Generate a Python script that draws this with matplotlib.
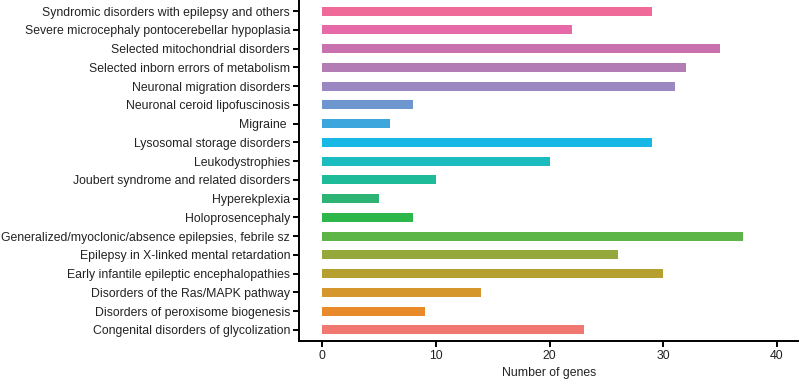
import matplotlib
matplotlib.use("Agg")
import matplotlib.pyplot as plt

categories = [
    "Congenital disorders of glycolization",
    "Disorders of peroxisome biogenesis",
    "Disorders of the Ras/MAPK pathway",
    "Early infantile epileptic encephalopathies",
    "Epilepsy in X-linked mental retardation",
    "Generalized/myoclonic/absence epilepsies, febrile sz",
    "Holoprosencephaly",
    "Hyperekplexia",
    "Joubert syndrome and related disorders",
    "Leukodystrophies",
    "Lysosomal storage disorders",
    "Migraine ",
    "Neuronal ceroid lipofuscinosis",
    "Neuronal migration disorders",
    "Selected inborn errors of metabolism",
    "Selected mitochondrial disorders",
    "Severe microcephaly pontocerebellar hypoplasia",
    "Syndromic disorders with epilepsy and others",
]
values = [23, 9, 14, 30, 26, 37, 8, 5, 10, 20, 29, 6, 8, 31, 32, 35, 22, 29]
colors = ["#F07870", "#E98A2A", "#D6962E", "#B5A02F", "#94A83C", "#5DB548",
          "#2DB64A", "#2DB374", "#1DBB98", "#1BBCC0", "#18B8E6", "#3DA6DD",
          "#6E96CE", "#9B88C2", "#B37CB5", "#C970AE", "#E66AA8", "#EF6A98"]
xticks = [0, 10, 20, 30, 40]

plt.rcParams['font.family'] = ['Liberation Sans', 'DejaVu Sans']
fig = plt.figure(figsize=(8, 3.81), dpi=100)
ax = fig.add_axes([0.374, 0.105, 0.624, 0.895])
ypos = list(range(len(categories)))
ax.barh(ypos, values, height=0.48, color=colors)
ax.set_yticks(ypos)
ax.set_yticklabels(categories, fontsize=8.8, color="#222222")
ax.set_xticks(xticks)
ax.set_xticklabels([str(t) for t in xticks], fontsize=8.8, color="#222222")
ax.set_xlim(-2.03, 41.9)
ax.set_ylim(-0.6, 17.6)
for s in ["top", "right"]:
    ax.spines[s].set_visible(False)
for s in ["left", "bottom"]:
    ax.spines[s].set_linewidth(1.4)
ax.tick_params(axis="both", length=4, width=1.4, pad=2.5)
ax.set_xlabel("Number of genes", fontsize=8.8, color="#222222", labelpad=3.5)
fig.savefig("out.png", dpi=100)
